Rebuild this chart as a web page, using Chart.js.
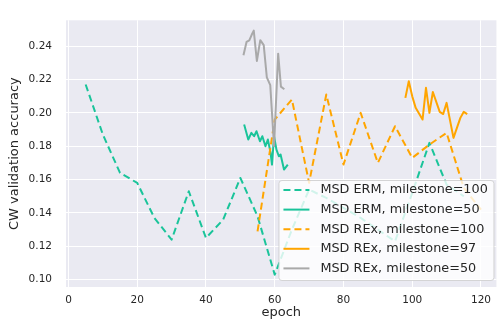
<!DOCTYPE html>
<html>
<head>
<meta charset="utf-8">
<script src="https://cdn.jsdelivr.net/npm/chart.js@4"></script>
<style>
  body { margin: 0; background: #fff; }
  #wrap { width: 498px; height: 330px; }
</style>
</head>
<body>
<div id="wrap"><canvas id="acc-chart" width="498" height="330"></canvas></div>
<script>
// values
const ermM100Epochs = [5, 10, 15, 20, 25, 30, 35, 40, 45, 50, 55, 60, 65, 70, 75, 80, 85, 90, 95, 100, 105, 110, 115];
const ermM100Acc = [0.217, 0.187, 0.164, 0.158, 0.137, 0.124, 0.153, 0.125, 0.136, 0.161, 0.138, 0.103,
  0.130, 0.154, 0.149, 0.143, 0.137, 0.130, 0.123, 0.152, 0.182, 0.157, 0.150];

const ermM50Epochs = [51.1, 52.3, 53.2, 54.0, 54.7, 55.7, 56.4, 57.3, 58.0, 58.8, 59.2, 59.8, 60.5, 61.2, 61.7, 62.7, 63.8];
const ermM50Acc = [0.193, 0.184, 0.188, 0.186, 0.189, 0.183, 0.186, 0.180, 0.184, 0.176, 0.169, 0.186,
  0.178, 0.174, 0.175, 0.166, 0.169];

const rexM100Epochs = [55, 60, 65, 70, 75, 80, 85, 90, 95, 100, 105, 110, 115, 120];
const rexM100Acc = [0.129, 0.196, 0.208, 0.158, 0.211, 0.169, 0.200, 0.170, 0.192, 0.173, 0.181, 0.188, 0.155, 0.142];

const rexM97Epochs = [98, 99, 100, 101, 103, 104, 105, 106, 108, 109, 110, 112, 114, 115, 116];
const rexM97Acc = [0.209, 0.219, 0.210, 0.203, 0.196, 0.215, 0.200, 0.2125, 0.2006, 0.1993, 0.206,
  0.185, 0.197, 0.2006, 0.1993];

const rexM50Epochs = [50.9, 51.8, 52.6, 53.3, 53.9, 54.8, 55.8, 56.8, 57.7, 58.7, 59.8, 61.0, 61.8, 62.8];
const rexM50Acc = [0.2345, 0.2425, 0.2434, 0.2468, 0.2493, 0.2311, 0.2436, 0.2406, 0.2213, 0.2166,
  0.180, 0.2355, 0.2157, 0.2142];

const xTicks = [0, 20, 40, 60, 80, 100, 120];
const yTicks = [0.10, 0.12, 0.14, 0.16, 0.18, 0.20, 0.22, 0.24];

const teal = '#1ac49a';
const orange = '#ffa500';
const grey = '#a9a9a9';
const textColor = '#262626';
const dash = [7, 4];

Chart.defaults.font.family = '"DejaVu Sans"';

const toPoints = (xs, ys) => xs.map((x, i) => ({ x: x, y: ys[i] }));

function series(label, xs, ys, color, dashed, order) {
  return {
    label: label,
    data: toPoints(xs, ys),
    borderColor: color,
    backgroundColor: color,
    borderWidth: 2,
    borderDash: dashed ? dash : [],
    borderJoinStyle: 'round',
    borderCapStyle: 'butt',
    pointRadius: 0,
    tension: 0,
    fill: false,
    order: order
  };
}

// seaborn-ish grey plot background
const plotBackground = {
  id: 'plotBackground',
  beforeDraw(chart) {
    const { ctx, chartArea } = chart;
    ctx.save();
    ctx.fillStyle = '#fff';
    ctx.fillRect(0, 0, chart.width, chart.height);
    ctx.fillStyle = '#eaeaf2';
    ctx.fillRect(chartArea.left, chartArea.top, chartArea.right - chartArea.left, chartArea.bottom - chartArea.top);
    ctx.restore();
  }
};

// legend box inside the plot, lower right
const innerLegend = {
  id: 'innerLegend',
  afterDraw(chart) {
    const { ctx, chartArea } = chart;
    const w = 215, h = 100;
    const x = chartArea.right - 3 - w;
    const y = chartArea.bottom - 7 - h;
    ctx.save();
    ctx.beginPath();
    ctx.roundRect(x + 0.5, y + 0.5, w, h, 3);
    ctx.fillStyle = 'rgba(255,255,255,0.8)';
    ctx.fill();
    ctx.strokeStyle = 'rgba(204,204,204,0.8)';
    ctx.lineWidth = 1;
    ctx.stroke();
    ctx.font = '12.8px "DejaVu Sans"';
    ctx.textBaseline = 'middle';
    chart.data.datasets.forEach((ds, i) => {
      const rowY = y + 10 + i * 19.6;
      ctx.beginPath();
      ctx.setLineDash(ds.borderDash);
      ctx.strokeStyle = ds.borderColor;
      ctx.lineWidth = ds.borderWidth;
      ctx.moveTo(x + 5, rowY);
      ctx.lineTo(x + 31, rowY);
      ctx.stroke();
      ctx.setLineDash([]);
      ctx.fillStyle = textColor;
      ctx.fillText(ds.label, x + 42, rowY);
    });
    ctx.restore();
  }
};

const accCanvas = document.getElementById('acc-chart');

let accChart = new Chart(accCanvas, {
  type: 'line',
  data: {
    datasets: [
      series('MSD ERM, milestone=100', ermM100Epochs, ermM100Acc, teal, true, 5),
      series('MSD ERM, milestone=50', ermM50Epochs, ermM50Acc, teal, false, 4),
      series('MSD REx, milestone=100', rexM100Epochs, rexM100Acc, orange, true, 3),
      series('MSD REx, milestone=97', rexM97Epochs, rexM97Acc, orange, false, 2),
      series('MSD REx, milestone=50', rexM50Epochs, rexM50Acc, grey, false, 1)
    ]
  },
  options: {
    responsive: false,
    devicePixelRatio: 1,
    animation: false,
    layout: { padding: { top: 5, right: 0, bottom: 0, left: 0 } },
    scales: {
      x: {
        type: 'linear',
        min: -0.72,
        max: 124.5,
        afterBuildTicks: scale => { scale.ticks = xTicks.map(v => ({ value: v })); },
        afterFit: scale => { scale.height = 43; },
        grid: { color: '#ffffff', lineWidth: 1, drawTicks: false },
        border: { display: false },
        ticks: { color: textColor, font: { size: 10.5 }, padding: 7, maxRotation: 0, autoSkip: false },
        title: { display: true, text: 'epoch', color: textColor, font: { size: 13 }, padding: { top: 0, bottom: 10 } }
      },
      y: {
        min: 0.0956,
        max: 0.2555,
        afterBuildTicks: scale => { scale.ticks = yTicks.map(v => ({ value: v })); },
        afterFit: scale => { scale.width = 66; },
        grid: { color: '#ffffff', lineWidth: 1, drawTicks: false },
        border: { display: false },
        ticks: { color: textColor, font: { size: 10.5 }, padding: 14, callback: v => v.toFixed(2) },
        title: { display: true, text: 'CW validation accuracy', color: textColor, font: { size: 13 }, padding: { top: 7, bottom: 0 } }
      }
    },
    plugins: {
      legend: { display: false },
      tooltip: { enabled: false }
    }
  },
  plugins: [plotBackground, innerLegend]
});
</script>
</body>
</html>
